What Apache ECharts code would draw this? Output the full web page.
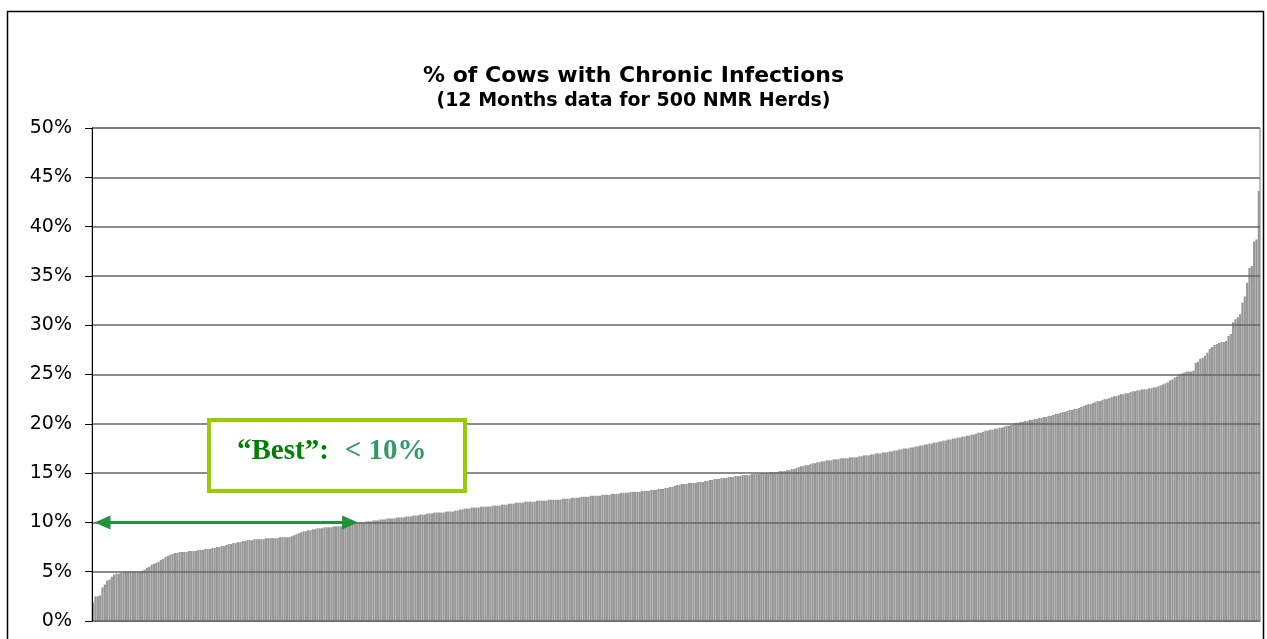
<!DOCTYPE html>
<html lang="en">
<head>
    <meta charset="UTF-8">
    <title>% of Cows with Chronic Infections</title>
    <script type="text/javascript" src="https://cdn.jsdelivr.net/npm/echarts@6/dist/echarts.min.js"></script>
    <style>
        html, body { margin: 0; padding: 0; background: #fff; }
        #main { width: 1267px; height: 639px; }
    </style>
</head>
<body>
<div id="main"></div>
<script type="text/javascript">
    // % of cows with chronic infections per herd, sorted low -> high (500 herds)
    var percentCows = [
        1.9, 2.5, 2.5, 2.6, 3.4, 3.7, 4.1, 4.2, 4.5, 4.7, 4.8, 4.8, 4.9, 5.0, 5.0, 5.0, 5.0, 5.0, 5.0, 5.0,
        5.0, 5.1, 5.2, 5.4, 5.5, 5.7, 5.8, 5.9, 6.0, 6.2, 6.3, 6.5, 6.6, 6.7, 6.8, 6.9, 6.9, 7.0, 7.0, 7.0,
        7.0, 7.1, 7.1, 7.1, 7.1, 7.2, 7.2, 7.2, 7.3, 7.3, 7.3, 7.4, 7.4, 7.5, 7.5, 7.6, 7.6, 7.7, 7.8, 7.8,
        7.9, 7.9, 8.0, 8.0, 8.1, 8.1, 8.2, 8.2, 8.2, 8.3, 8.3, 8.3, 8.3, 8.3, 8.4, 8.4, 8.4, 8.4, 8.4, 8.4,
        8.5, 8.5, 8.5, 8.5, 8.5, 8.6, 8.7, 8.8, 8.9, 9.0, 9.1, 9.1, 9.2, 9.2, 9.3, 9.3, 9.4, 9.4, 9.4, 9.5,
        9.5, 9.5, 9.5, 9.6, 9.6, 9.6, 9.6, 9.7, 9.7, 9.8, 9.8, 9.9, 9.9, 9.9, 10.0, 10.0, 10.0, 10.1, 10.1, 10.1,
        10.2, 10.2, 10.2, 10.3, 10.3, 10.3, 10.4, 10.4, 10.4, 10.4, 10.5, 10.5, 10.5, 10.5, 10.6, 10.6, 10.6, 10.7, 10.7, 10.7,
        10.8, 10.8, 10.8, 10.9, 10.9, 10.9, 11.0, 11.0, 11.0, 11.0, 11.0, 11.1, 11.1, 11.1, 11.1, 11.2, 11.2, 11.3, 11.3, 11.4,
        11.4, 11.4, 11.5, 11.5, 11.5, 11.5, 11.6, 11.6, 11.6, 11.6, 11.6, 11.7, 11.7, 11.7, 11.7, 11.8, 11.8, 11.8, 11.9, 11.9,
        11.9, 12.0, 12.0, 12.0, 12.0, 12.1, 12.1, 12.1, 12.1, 12.1, 12.2, 12.2, 12.2, 12.2, 12.2, 12.3, 12.3, 12.3, 12.3, 12.3,
        12.3, 12.4, 12.4, 12.4, 12.4, 12.5, 12.5, 12.5, 12.5, 12.6, 12.6, 12.6, 12.6, 12.7, 12.7, 12.7, 12.7, 12.7, 12.8, 12.8,
        12.8, 12.8, 12.9, 12.9, 12.9, 12.9, 13.0, 13.0, 13.0, 13.0, 13.1, 13.1, 13.1, 13.1, 13.1, 13.2, 13.2, 13.2, 13.2, 13.3,
        13.3, 13.3, 13.4, 13.4, 13.4, 13.5, 13.5, 13.6, 13.6, 13.7, 13.8, 13.8, 13.9, 13.9, 13.9, 14.0, 14.0, 14.0, 14.0, 14.1,
        14.1, 14.1, 14.2, 14.2, 14.3, 14.3, 14.4, 14.4, 14.4, 14.5, 14.5, 14.5, 14.6, 14.6, 14.6, 14.7, 14.7, 14.7, 14.8, 14.8,
        14.8, 14.8, 14.9, 14.9, 14.9, 14.9, 15.0, 15.0, 15.0, 15.0, 15.1, 15.1, 15.1, 15.1, 15.2, 15.2, 15.2, 15.3, 15.3, 15.4,
        15.4, 15.5, 15.6, 15.7, 15.7, 15.8, 15.8, 15.9, 16.0, 16.0, 16.1, 16.1, 16.2, 16.2, 16.3, 16.3, 16.3, 16.4, 16.4, 16.4,
        16.5, 16.5, 16.5, 16.5, 16.6, 16.6, 16.6, 16.6, 16.7, 16.7, 16.8, 16.8, 16.8, 16.9, 16.9, 17.0, 17.0, 17.0, 17.1, 17.1,
        17.1, 17.2, 17.2, 17.3, 17.3, 17.4, 17.4, 17.5, 17.5, 17.5, 17.6, 17.6, 17.7, 17.7, 17.8, 17.8, 17.9, 17.9, 18.0, 18.0,
        18.1, 18.1, 18.2, 18.2, 18.3, 18.3, 18.4, 18.4, 18.5, 18.5, 18.6, 18.6, 18.7, 18.7, 18.8, 18.8, 18.9, 18.9, 19.0, 19.1,
        19.1, 19.2, 19.3, 19.3, 19.4, 19.4, 19.5, 19.5, 19.6, 19.6, 19.7, 19.8, 19.8, 19.9, 20.0, 20.1, 20.1, 20.2, 20.2, 20.3,
        20.3, 20.4, 20.4, 20.5, 20.5, 20.6, 20.6, 20.7, 20.7, 20.8, 20.8, 20.9, 21.0, 21.0, 21.1, 21.2, 21.2, 21.3, 21.4, 21.4,
        21.5, 21.5, 21.6, 21.7, 21.8, 21.9, 22.0, 22.0, 22.1, 22.2, 22.3, 22.3, 22.4, 22.5, 22.5, 22.6, 22.7, 22.8, 22.8, 22.9,
        23.0, 23.0, 23.1, 23.1, 23.2, 23.3, 23.3, 23.4, 23.4, 23.5, 23.5, 23.5, 23.6, 23.6, 23.7, 23.7, 23.8, 23.9, 24.0, 24.1,
        24.2, 24.4, 24.5, 24.7, 24.8, 25.0, 25.1, 25.2, 25.3, 25.3, 25.3, 25.4, 26.2, 26.3, 26.6, 26.7, 26.9, 27.2, 27.6, 27.8,
        28.0, 28.1, 28.2, 28.3, 28.3, 28.4, 28.9, 29.1, 30.3, 30.6, 30.8, 31.1, 32.3, 32.9, 34.3, 35.8, 36.0, 38.5, 38.7, 43.6
    ];

    // one category per herd (no labels shown on the axis)
    var herds = percentCows.map(function (v, i) { return 'Herd ' + (i + 1); });

    // "best" target: herds under 10%
    var bestLimit = 10;
    var bestArrowStart = 4;    // herd index where the arrow head sits (left)
    var bestArrowEnd = 110;    // herd index where the arrow head sits (right)

    var yMin = 0, yMax = 50, yStep = 5;

    const myChart = echarts.init(document.getElementById('main'));
    myChart.setOption({
        animation: false,
        title: {
            left: 'center',
            top: 60,
            text: '% of Cows with Chronic Infections',
            subtext: '(12 Months data for 500 NMR Herds)',
            itemGap: 5,
            textStyle: {
                fontFamily: 'DejaVu Sans',
                fontWeight: 'bold',
                fontSize: 22,
                color: '#000'
            },
            subtextStyle: {
                fontFamily: 'DejaVu Sans',
                fontWeight: 'bold',
                fontSize: 19,
                color: '#000'
            }
        },
        grid: {
            left: 92,
            right: 7,
            top: 128,
            bottom: 18,
            show: true,
            borderColor: '#808080',
            borderWidth: 1
        },
        xAxis: {
            type: 'category',
            data: herds,
            axisLine: { lineStyle: { color: '#808080', width: 1 } },
            axisTick: { show: false },
            axisLabel: { show: false }
        },
        yAxis: {
            type: 'value',
            min: yMin,
            max: yMax,
            interval: yStep,
            z: 3,
            axisLine: { show: true, lineStyle: { color: '#000', width: 1 } },
            axisTick: { show: true, inside: false, length: 7, lineStyle: { color: '#000' } },
            axisLabel: {
                formatter: '{value}%',
                margin: 20,
                fontFamily: 'DejaVu Sans',
                fontSize: 19,
                color: '#000'
            },
            splitLine: { lineStyle: { color: '#666666', width: 1.5 } }
        },
        series: [{
            name: '% chronic',
            type: 'bar',
            data: percentCows,
            barCategoryGap: '6%',
            itemStyle: { color: '#979797' },
            markLine: {
                silent: true,
                z: 6,
                symbol: ['triangle', 'triangle'],
                symbolSize: [14, 16],
                label: { show: false },
                lineStyle: { color: '#23903a', width: 3, type: 'solid' },
                data: [[
                    { coord: [bestArrowStart, bestLimit] },
                    { coord: [bestArrowEnd, bestLimit] }
                ]]
            }
        }],
        graphic: [
            // outer frame of the slide
            {
                type: 'rect',
                z: 20,
                shape: { x: 7.5, y: 11.5, width: 1256, height: 700 },
                style: { fill: null, stroke: '#000', lineWidth: 1.5 }
            },
            // callout box
            {
                type: 'rect',
                z: 20,
                shape: { x: 209, y: 420, width: 256, height: 71 },
                style: { fill: '#fff', stroke: '#99cc00', lineWidth: 4 }
            },
            {
                type: 'text',
                z: 21,
                x: 237,
                y: 452,
                style: {
                    text: '{a|\u201cBest\u201d:}{s| }{b|< 10%}',
                    verticalAlign: 'middle',
                    rich: {
                        a: { fontFamily: 'Liberation Serif', fontWeight: 'bold', fontSize: 29, fill: '#008000' },
                        s: { fontFamily: 'Liberation Serif', fontSize: 29, width: 16 },
                        b: { fontFamily: 'Liberation Serif', fontWeight: 'bold', fontSize: 29, fill: '#339966' }
                    },
                    fontFamily: 'Liberation Serif',
                    fontWeight: 'bold',
                    fontSize: 29
                }
            }
        ]
    });
</script>
</body>
</html>
